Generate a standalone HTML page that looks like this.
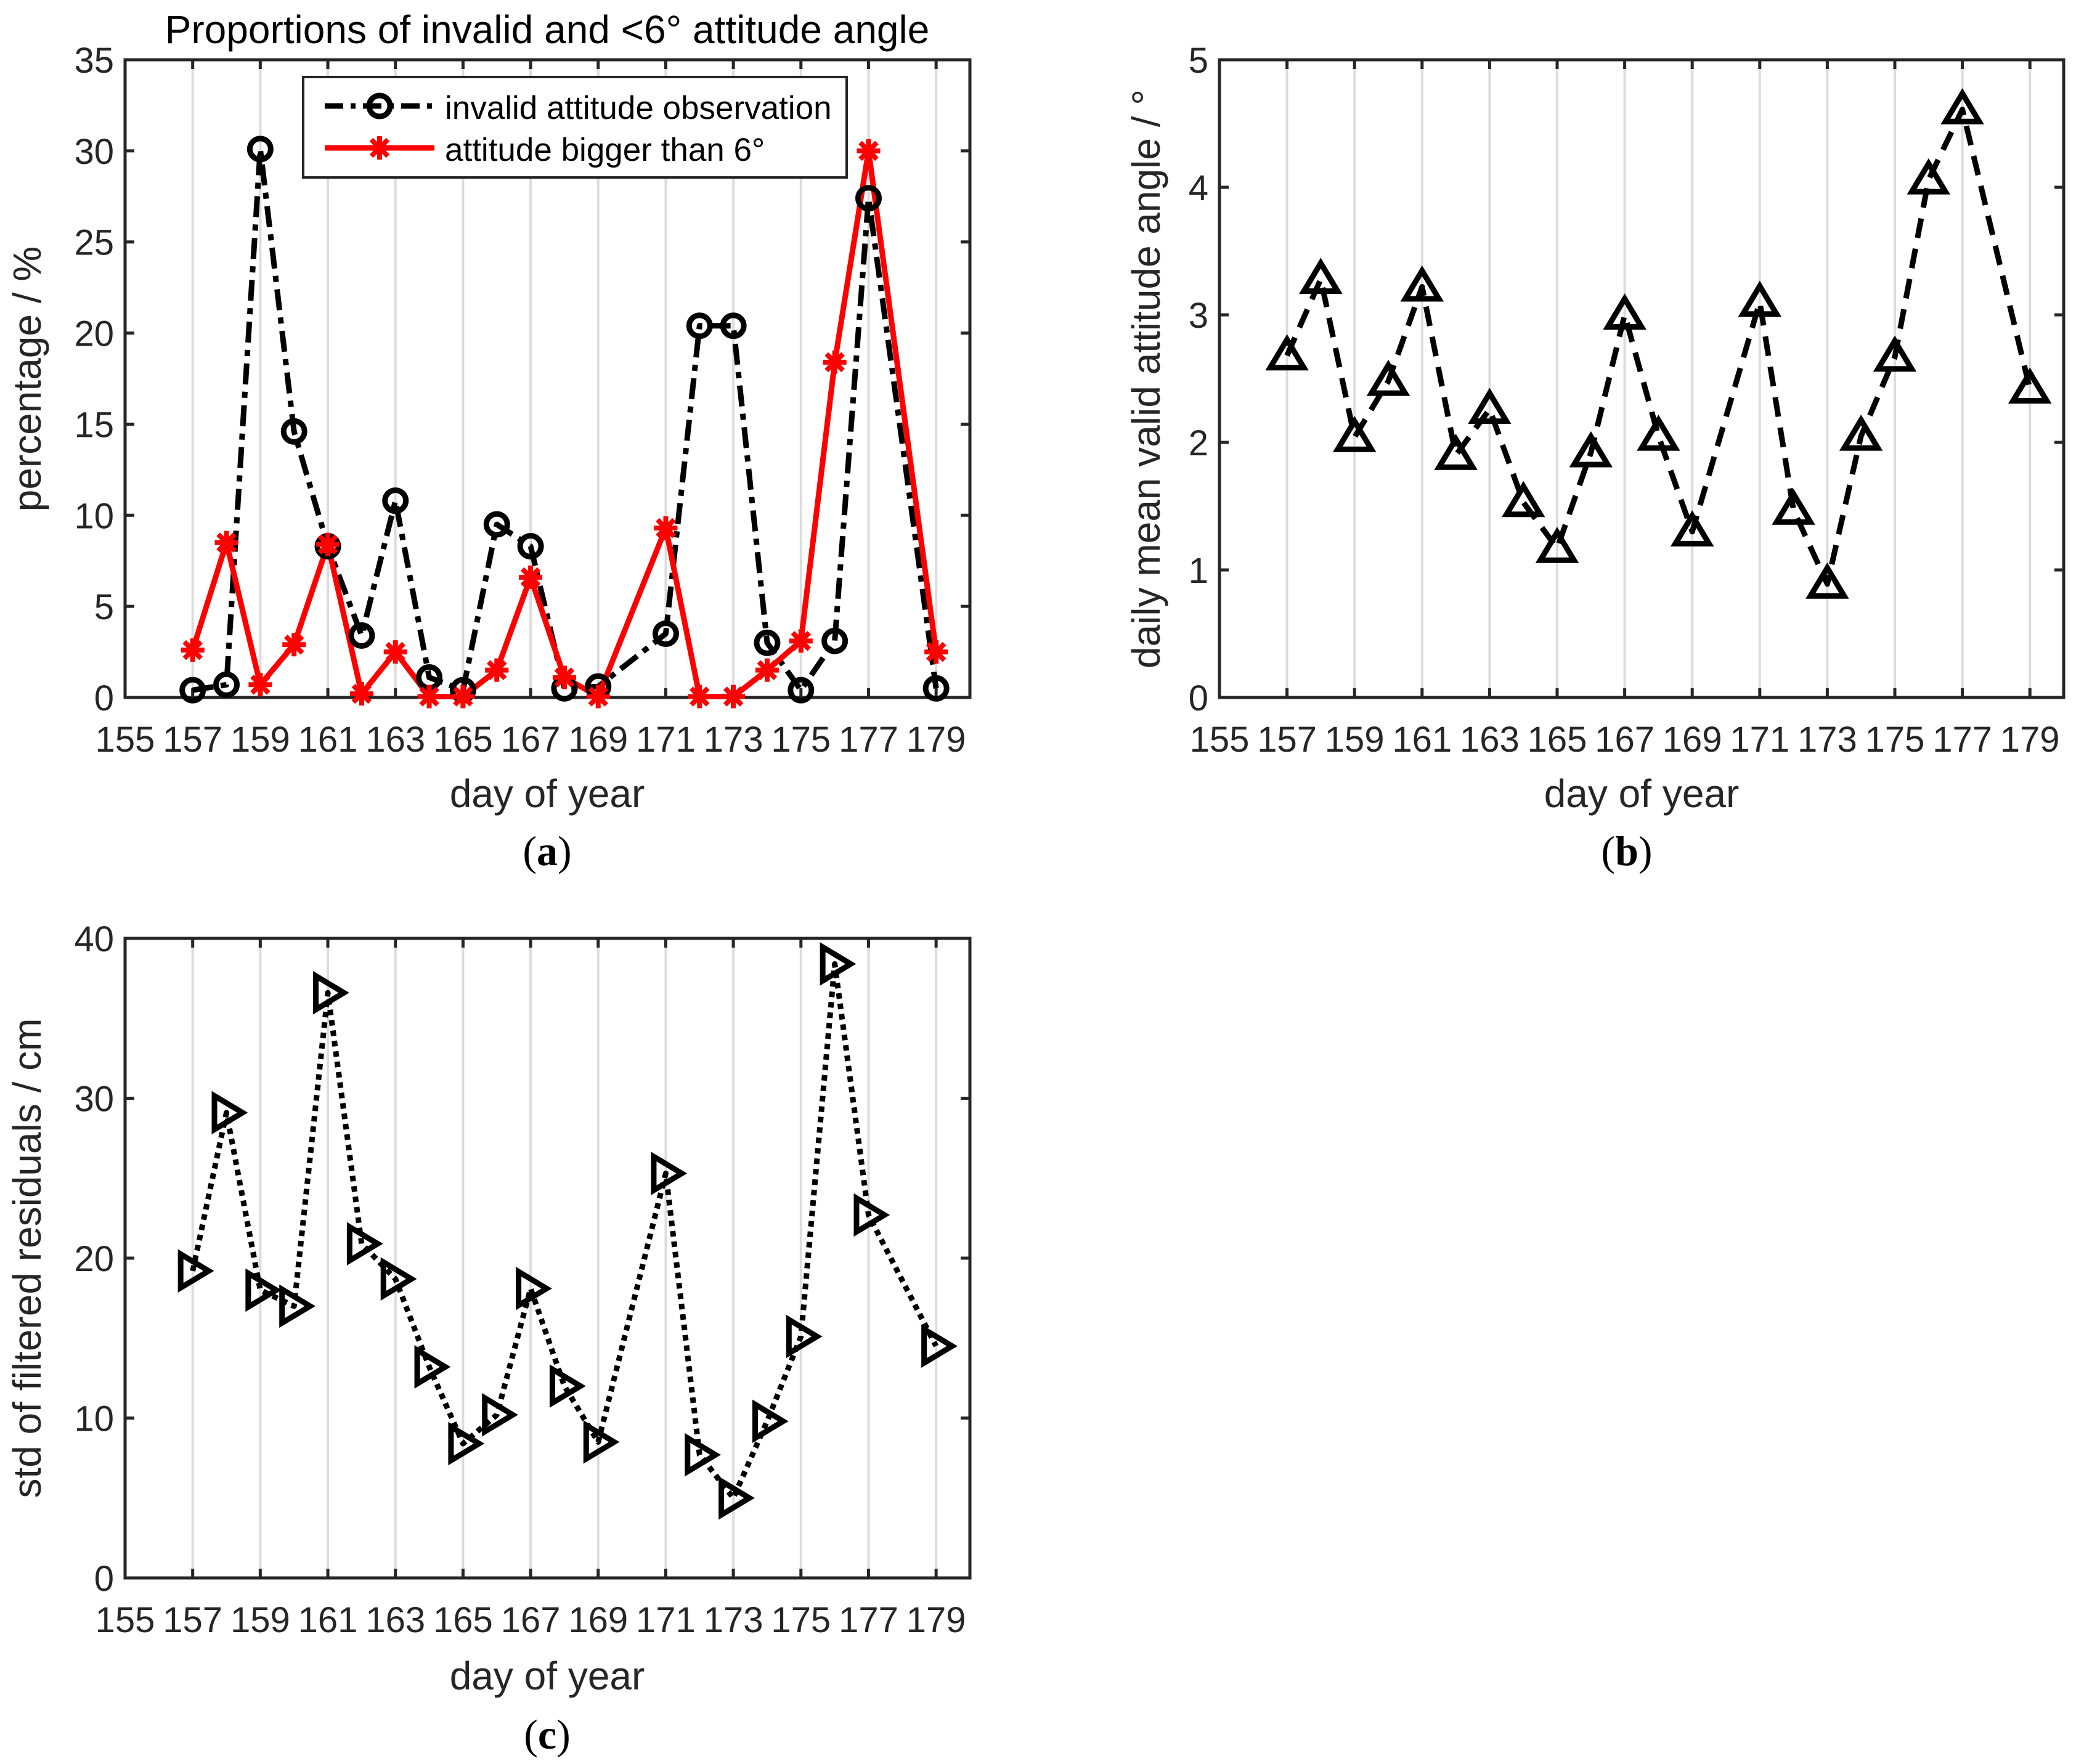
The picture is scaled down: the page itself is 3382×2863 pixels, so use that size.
<!DOCTYPE html>
<html><head><meta charset="utf-8"><style>
html,body{margin:0;padding:0;background:#fff;}
svg{display:block;font-family:"Liberation Sans",Arial,sans-serif;}
</style></head><body>
<svg id="fig" width="3382" height="2863" viewBox="0 0 3382 2863" xmlns="http://www.w3.org/2000/svg">
<rect width="3382" height="2863" fill="#fff"/>
<text x="888" y="70" font-size="64" text-anchor="middle" fill="#000">Proportions of invalid and &lt;6° attitude angle</text>
<g id="pa"></g>
<g id="pb"></g>
<g id="pc"></g>
<text x="66" y="615" font-size="64" fill="#262626" text-anchor="middle" transform="rotate(-90 66 615)">percentage / %</text>
<text x="888" y="1310" font-size="64" fill="#262626" text-anchor="middle">day of year</text>
<text x="888" y="1404" font-size="68" fill="#000" text-anchor="middle" font-family="Liberation Serif,serif">(<tspan font-weight="bold">a</tspan>)</text>
<text x="1882" y="615" font-size="64" fill="#262626" text-anchor="middle" transform="rotate(-90 1882 615)">daily mean valid attitude angle / °</text>
<text x="2664" y="1310" font-size="64" fill="#262626" text-anchor="middle">day of year</text>
<text x="2640" y="1404" font-size="68" fill="#000" text-anchor="middle" font-family="Liberation Serif,serif">(<tspan font-weight="bold">b</tspan>)</text>
<text x="66" y="2042" font-size="64" fill="#262626" text-anchor="middle" transform="rotate(-90 66 2042)">std of filtered residuals / cm</text>
<text x="888" y="2742" font-size="64" fill="#262626" text-anchor="middle">day of year</text>
<text x="888" y="2838" font-size="68" fill="#000" text-anchor="middle" font-family="Liberation Serif,serif">(<tspan font-weight="bold">c</tspan>)</text>
</svg>
<script>
const xTicks = [155,157,159,161,163,165,167,169,171,173,175,177,179];
const days = [157,158,159,160,161,162,163,164,165,166,167,168,169,171,172,173,174,175,176,177,179];
const invalidPct = [0.4,0.7,30.1,14.6,8.3,3.4,10.8,1.1,0.4,9.5,8.3,0.5,0.6,3.5,20.4,20.4,3.0,0.4,3.1,27.4,0.5];
const bigAnglePct = [2.6,8.5,0.7,2.9,8.4,0.2,2.5,0.05,0.05,1.5,6.6,1.1,0.05,9.3,0.05,0.05,1.5,3.1,18.4,30.0,2.5];
const meanAngle = [2.68,3.28,2.04,2.48,3.22,1.9,2.26,1.53,1.17,1.92,3.0,2.05,1.3,3.1,1.47,0.89,2.05,2.67,4.06,4.61,2.42];
const stdResid = [19.2,29.1,18.0,17.0,36.6,20.9,18.7,13.2,8.4,10.2,18.1,12.0,8.5,25.3,7.7,5.0,9.8,15.1,38.4,22.7,14.5];
const yTicksA = [0,5,10,15,20,25,30,35];
const yTicksB = [0,1,2,3,4,5];
const yTicksC = [0,10,20,30,40];

const NS='http://www.w3.org/2000/svg';
function mk(tag,attrs,parent){const e=document.createElementNS(NS,tag);for(const k in attrs)e.setAttribute(k,attrs[k]);parent.appendChild(e);return e;}

function axes(g,L,T,R,B,ymax,yTicks,prefix){
  const x=d=>L+(d-155)/(180-155)*(R-L);
  const y=v=>B-v/ymax*(B-T);
  xTicks.forEach(t=>{
    if(t>155){const gl=mk('line',{x1:x(t),x2:x(t),y1:T,y2:B,stroke:'#dcdcdc','stroke-width':4},g);
      
      }
    mk('line',{x1:x(t),x2:x(t),y1:B,y2:B-15,stroke:'#262626','stroke-width':5},g);
    mk('line',{x1:x(t),x2:x(t),y1:T,y2:T+15,stroke:'#262626','stroke-width':5},g);
    const tl=mk('text',{x:x(t),y:B+88,'font-size':58,'text-anchor':'middle',fill:'#262626'},g);
    tl.textContent=t;
    
    
  });
  yTicks.forEach(t=>{
    mk('line',{x1:L,x2:L+15,y1:y(t),y2:y(t),stroke:'#262626','stroke-width':5},g);
    mk('line',{x1:R,x2:R-15,y1:y(t),y2:y(t),stroke:'#262626','stroke-width':5},g);
    const tl=mk('text',{x:L-18,y:y(t)+21,'font-size':58,'text-anchor':'end',fill:'#262626'},g);
    tl.textContent=t;
    
    
  });
  const box=mk('rect',{x:L,y:T,width:R-L,height:B-T,fill:'none',stroke:'#262626','stroke-width':5},g);
  
  
  return {x,y};
}
function line(g,sx,sy,vals,attrs,name){
  const pts=days.map((d,i)=>sx(d)+','+sy(vals[i])).join(' ');
  const a=Object.assign({points:pts,fill:'none','stroke-width':9,'stroke-linejoin':'round'},attrs);
  const p=mk('polyline',a,g);
  
  
}
function circle(g,cx,cy,name){const c=mk('circle',{cx,cy,r:17,fill:'none',stroke:'#000','stroke-width':9},g);
  }
function star(g,cx,cy,name){const s=mk('g',{},g);
  
  [0,45,90,135].forEach(a=>{const r=a*Math.PI/180,dx=19*Math.cos(r),dy=19*Math.sin(r);
    mk('line',{x1:cx-dx,y1:cy-dy,x2:cx+dx,y2:cy+dy,stroke:'#ff0000','stroke-width':8},s);});}
function tri(g,cx,cy,dir,name){const s=26;let pts;
  if(dir==='up')pts=[[cx,cy-s],[cx+s*1.05,cy+s*0.75],[cx-s*1.05,cy+s*0.75]];
  else pts=[[cx+s,cy],[cx-s*0.75,cy-s*1.05],[cx-s*0.75,cy+s*1.05]];
  const p=mk('polygon',{points:pts.map(q=>q.join(',')).join(' '),fill:'none',stroke:'#000','stroke-width':9,'stroke-linejoin':'miter'},g);
  }

// Panel a
const ga=document.getElementById('pa');
const A=axes(ga,203,97,1574,1132,35,yTicksA,'chart-a');
line(ga,A.x,A.y,invalidPct,{stroke:'#000','stroke-dasharray':'34 12 10 12'},'invalid-line');
line(ga,A.x,A.y,bigAnglePct,{stroke:'#ff0000'},'big-angle-line');
days.forEach((d,i)=>circle(ga,A.x(d),A.y(invalidPct[i]),'invalid-point'));
days.forEach((d,i)=>star(ga,A.x(d),A.y(bigAnglePct[i]),'big-angle-point'));
// legend
const lg=mk('g',{},ga);


mk('rect',{x:492,y:125,width:882,height:163,fill:'#fff',stroke:'#262626','stroke-width':4},lg);
mk('line',{x1:527,x2:705,y1:172,y2:172,stroke:'#000','stroke-width':9,'stroke-dasharray':'30 12 8 12'},lg);
circle(lg,616,172,'legend-invalid-marker');
mk('line',{x1:527,x2:705,y1:240,y2:240,stroke:'#ff0000','stroke-width':9},lg);
star(lg,616,240,'legend-big-angle-marker');
const t1=mk('text',{x:722,y:193,'font-size':53,fill:'#000'},lg);t1.textContent='invalid attitude observation';

const t2=mk('text',{x:722,y:261,'font-size':53,fill:'#000'},lg);t2.textContent='attitude bigger than 6°';


// Panel b
const gb=document.getElementById('pb');
const Bx=axes(gb,1979,97,3349,1132,5,yTicksB,'chart-b');
line(gb,Bx.x,Bx.y,meanAngle,{stroke:'#000','stroke-dasharray':'32 18'},'mean-angle-line');
days.forEach((d,i)=>tri(gb,Bx.x(d),Bx.y(meanAngle[i]),'up','mean-angle-point'));

// Panel c
const gc=document.getElementById('pc');
const C=axes(gc,203,1523,1574,2561,40,yTicksC,'chart-c');
line(gc,C.x,C.y,stdResid,{stroke:'#000','stroke-dasharray':'9 8'},'std-resid-line');
days.forEach((d,i)=>tri(gc,C.x(d),C.y(stdResid[i]),'right','std-resid-point'));
</script>
</body></html>
